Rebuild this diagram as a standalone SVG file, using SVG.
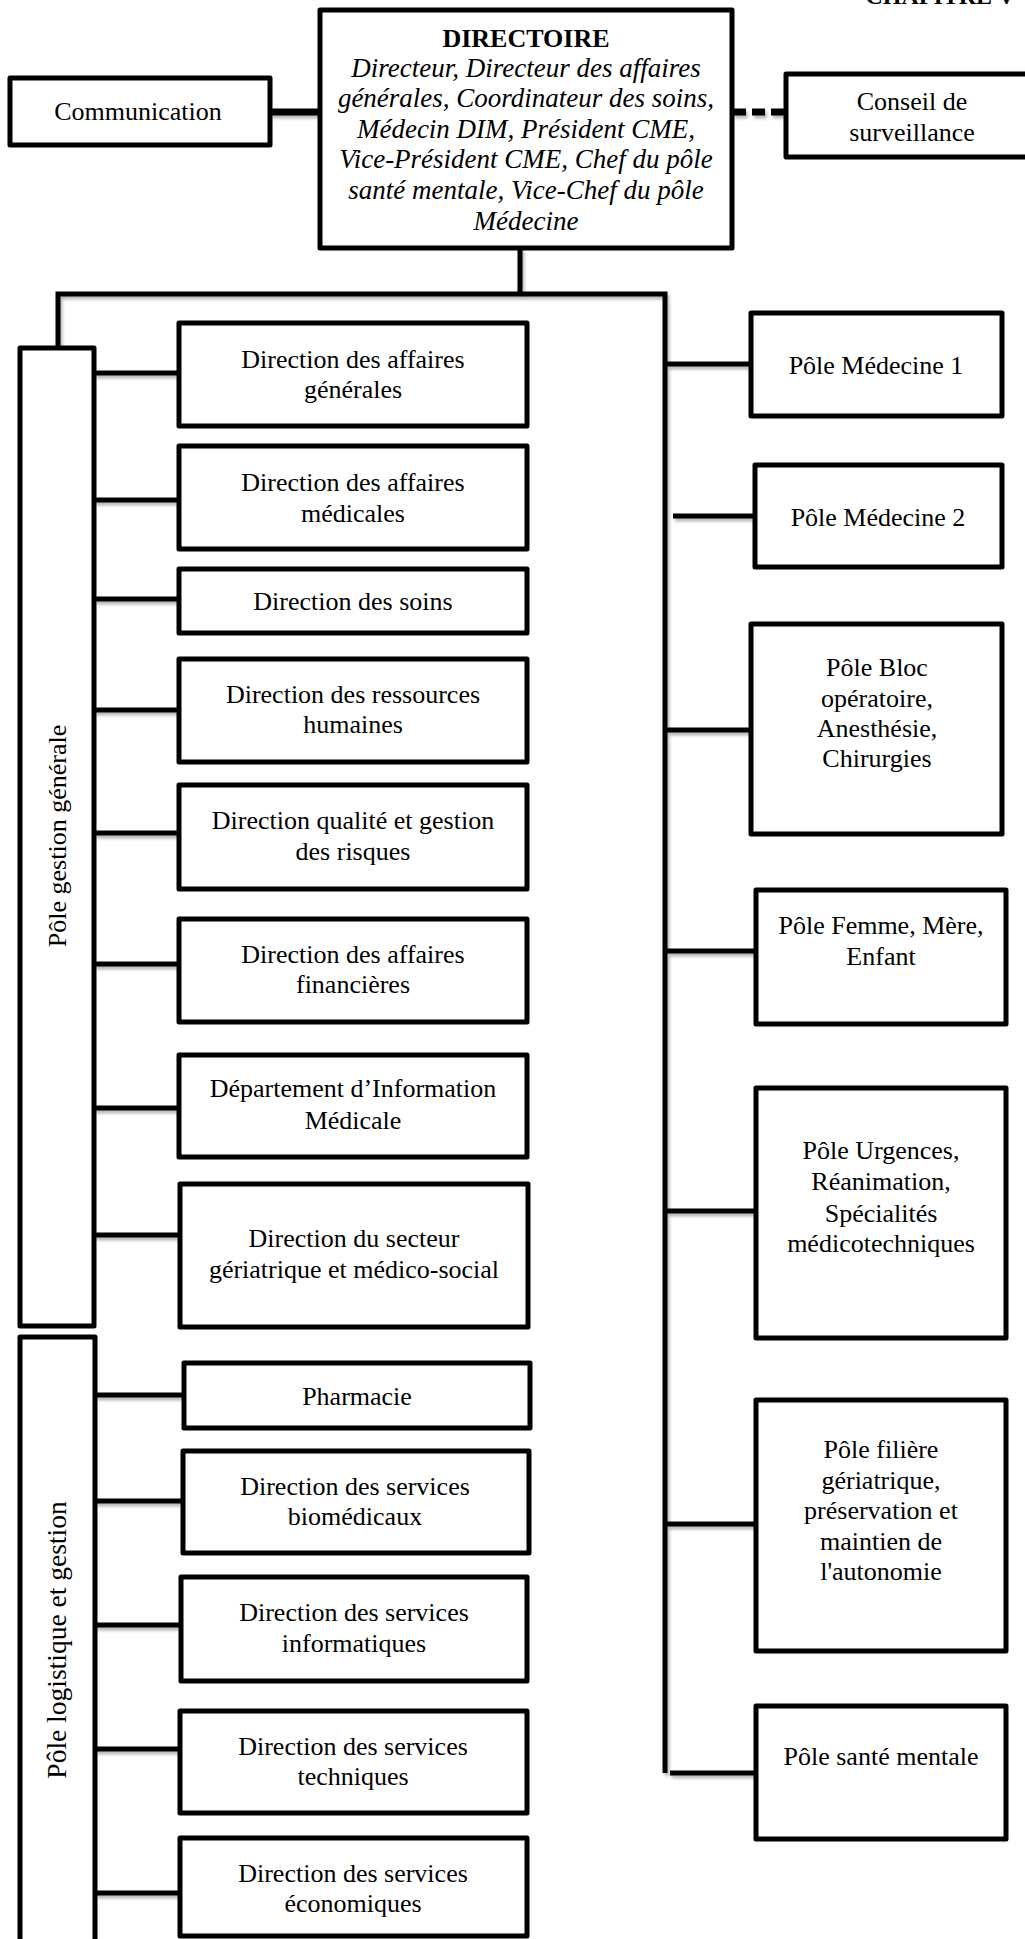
<svg xmlns="http://www.w3.org/2000/svg" width="1025" height="1939" viewBox="0 0 1025 1939">
<defs>
<filter id="sh" x="-10%" y="-10%" width="120%" height="140%">
<feDropShadow dx="2" dy="3" stdDeviation="1.8" flood-color="#000" flood-opacity="0.28"/>
</filter>
<style>
.box{fill:#fff;stroke:#000;stroke-width:5;stroke-linejoin:round}
.t{font-family:"Liberation Serif","Times New Roman",serif;font-size:26px;fill:#000;text-anchor:middle}
.b{font-weight:bold}
.i{font-style:italic;font-size:27px}
.c{stroke:#000;stroke-width:5;fill:none;stroke-linecap:butt}
</style>
</defs>
<rect width="1025" height="1939" fill="#fff"/>
<text class="t b" x="1015" y="4" style="text-anchor:end;font-size:24px">CHAPITRE V</text>

<g id="connectors" filter="url(#sh)">
<line class="c" x1="270" y1="112" x2="320" y2="112" style="stroke-width:7"/>
<line class="c" x1="733" y1="112" x2="784" y2="112" style="stroke-width:7" stroke-dasharray="13 6"/>
<line class="c" x1="520" y1="248" x2="520" y2="294"/>
<polyline class="c" points="58,348 58,294 665,294 665,1773"/>
<line class="c" x1="665" y1="364" x2="751" y2="364"/>
<line class="c" x1="673" y1="516" x2="755" y2="516"/>
<line class="c" x1="665" y1="730" x2="751" y2="730"/>
<line class="c" x1="665" y1="951" x2="756" y2="951"/>
<line class="c" x1="665" y1="1211" x2="756" y2="1211"/>
<line class="c" x1="665" y1="1524" x2="756" y2="1524"/>
<line class="c" x1="670" y1="1773" x2="756" y2="1773"/>
<line class="c" x1="94" y1="373" x2="180" y2="373"/>
<line class="c" x1="94" y1="500" x2="180" y2="500"/>
<line class="c" x1="94" y1="599" x2="180" y2="599"/>
<line class="c" x1="94" y1="710" x2="180" y2="710"/>
<line class="c" x1="94" y1="833" x2="180" y2="833"/>
<line class="c" x1="94" y1="964" x2="180" y2="964"/>
<line class="c" x1="94" y1="1108" x2="180" y2="1108"/>
<line class="c" x1="94" y1="1235" x2="181" y2="1235"/>
<line class="c" x1="95" y1="1395" x2="184" y2="1395"/>
<line class="c" x1="95" y1="1501" x2="183" y2="1501"/>
<line class="c" x1="95" y1="1625" x2="181" y2="1625"/>
<line class="c" x1="95" y1="1749" x2="180" y2="1749"/>
<line class="c" x1="95" y1="1893" x2="180" y2="1893"/>
</g>

<g id="directoire">
<rect class="box" x="320" y="10" width="412" height="238"/>
<text class="t b" x="526" y="47">DIRECTOIRE</text>
<text class="t i" x="526" y="77">Directeur, Directeur des affaires</text>
<text class="t i" x="526" y="107">générales, Coordinateur des soins,</text>
<text class="t i" x="526" y="138">Médecin DIM, Président CME,</text>
<text class="t i" x="526" y="168">Vice-Président CME, Chef du pôle</text>
<text class="t i" x="526" y="199">santé mentale, Vice-Chef du pôle</text>
<text class="t i" x="526" y="230">Médecine</text>
</g>
<g id="communication">
<rect class="box" x="10" y="78" width="260" height="67"/>
<text class="t" x="138" y="120">Communication</text>
</g>
<g id="conseil">
<rect class="box" x="786" y="74" width="250" height="83"/>
<text class="t" x="912" y="110">Conseil de</text>
<text class="t" x="912" y="141">surveillance</text>
</g>

<g id="pole-gestion-generale">
<rect class="box" x="20" y="348" width="74" height="978"/>
<text class="t" transform="translate(66,836) rotate(-90)" x="0" y="0">Pôle gestion générale</text>
</g>
<g id="pole-logistique">
<rect class="box" x="20" y="1337" width="75" height="620"/>
<text class="t" transform="translate(66,1640) rotate(-90)" x="0" y="0" style="font-size:27.5px">Pôle logistique et gestion</text>
</g>

<g id="dir-affaires-generales">
<rect class="box" x="179" y="323" width="348" height="103"/>
<text class="t" x="353" y="368">Direction des affaires</text>
<text class="t" x="353" y="398">générales</text>
</g>
<g id="dir-affaires-medicales">
<rect class="box" x="179" y="446" width="348" height="103"/>
<text class="t" x="353" y="491">Direction des affaires</text>
<text class="t" x="353" y="522">médicales</text>
</g>
<g id="dir-soins">
<rect class="box" x="179" y="569" width="348" height="64"/>
<text class="t" x="353" y="610">Direction des soins</text>
</g>
<g id="dir-rh">
<rect class="box" x="179" y="659" width="348" height="103"/>
<text class="t" x="353" y="703">Direction des ressources</text>
<text class="t" x="353" y="733">humaines</text>
</g>
<g id="dir-qualite">
<rect class="box" x="179" y="785" width="348" height="104"/>
<text class="t" x="353" y="829">Direction qualité et gestion</text>
<text class="t" x="353" y="860">des risques</text>
</g>
<g id="dir-financieres">
<rect class="box" x="179" y="919" width="348" height="103"/>
<text class="t" x="353" y="963">Direction des affaires</text>
<text class="t" x="353" y="993">financières</text>
</g>
<g id="dim">
<rect class="box" x="179" y="1055" width="348" height="102"/>
<text class="t" x="353" y="1097">Département d’Information</text>
<text class="t" x="353" y="1129">Médicale</text>
</g>
<g id="dir-geriatrique">
<rect class="box" x="180" y="1184" width="348" height="143"/>
<text class="t" x="354" y="1247">Direction du secteur</text>
<text class="t" x="354" y="1278">gériatrique et médico-social</text>
</g>
<g id="pharmacie">
<rect class="box" x="184" y="1363" width="346" height="65"/>
<text class="t" x="357" y="1405">Pharmacie</text>
</g>
<g id="dir-biomedicaux">
<rect class="box" x="183" y="1451" width="346" height="102"/>
<text class="t" x="355" y="1495">Direction des services</text>
<text class="t" x="355" y="1525">biomédicaux</text>
</g>
<g id="dir-informatiques">
<rect class="box" x="181" y="1577" width="346" height="104"/>
<text class="t" x="354" y="1621">Direction des services</text>
<text class="t" x="354" y="1652">informatiques</text>
</g>
<g id="dir-techniques">
<rect class="box" x="180" y="1711" width="347" height="102"/>
<text class="t" x="353" y="1755">Direction des services</text>
<text class="t" x="353" y="1785">techniques</text>
</g>
<g id="dir-economiques">
<rect class="box" x="180" y="1838" width="347" height="98"/>
<text class="t" x="353" y="1882">Direction des services</text>
<text class="t" x="353" y="1912">économiques</text>
</g>

<g id="pole-medecine-1">
<rect class="box" x="751" y="313" width="251" height="103"/>
<text class="t" x="876" y="374">Pôle Médecine 1</text>
</g>
<g id="pole-medecine-2">
<rect class="box" x="755" y="465" width="247" height="102"/>
<text class="t" x="878" y="526">Pôle Médecine 2</text>
</g>
<g id="pole-bloc">
<rect class="box" x="751" y="624" width="251" height="210"/>
<text class="t" x="877" y="676">Pôle Bloc</text>
<text class="t" x="877" y="707">opératoire,</text>
<text class="t" x="877" y="737">Anesthésie,</text>
<text class="t" x="877" y="767">Chirurgies</text>
</g>
<g id="pole-femme">
<rect class="box" x="756" y="890" width="250" height="134"/>
<text class="t" x="881" y="934">Pôle Femme, Mère,</text>
<text class="t" x="881" y="965">Enfant</text>
</g>
<g id="pole-urgences">
<rect class="box" x="756" y="1088" width="250" height="250"/>
<text class="t" x="881" y="1159">Pôle Urgences,</text>
<text class="t" x="881" y="1190">Réanimation,</text>
<text class="t" x="881" y="1222">Spécialités</text>
<text class="t" x="881" y="1252">médicotechniques</text>
</g>
<g id="pole-filiere">
<rect class="box" x="756" y="1400" width="250" height="251"/>
<text class="t" x="881" y="1458">Pôle filière</text>
<text class="t" x="881" y="1489">gériatrique,</text>
<text class="t" x="881" y="1519">préservation et</text>
<text class="t" x="881" y="1550">maintien de</text>
<text class="t" x="881" y="1580">l'autonomie</text>
</g>
<g id="pole-sante-mentale">
<rect class="box" x="756" y="1706" width="250" height="133"/>
<text class="t" x="881" y="1765">Pôle santé mentale</text>
</g>
</svg>
